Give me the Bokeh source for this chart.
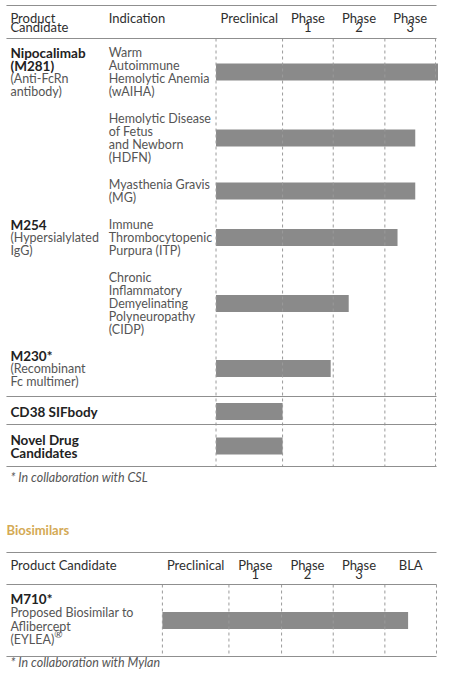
import numpy as np
from bokeh.plotting import figure
from bokeh.models import Range1d, ColumnDataSource
from bokeh.core.properties import value
from bokeh.embed import file_html
from bokeh.resources import INLINE

# ---------------- data ----------------
phases = ["Preclinical", "Phase\n1", "Phase\n2", "Phase\n3"]
product_names = ["Nipocalimab\n(M281)", "M254", "M230*", "CD38 SIFbody", "Novel Drug\nCandidates"]
product_notes = ["(Anti-FcRn\nantibody)", "(Hypersialylated\nIgG)", "(Recombinant\nFc multimer)", "", ""]
product_first_row = [0, 3, 5, 6, 7]
indications = [
    "Warm\nAutoimmune\nHemolytic Anemia\n(wAIHA)",
    "Hemolytic Disease\nof Fetus\nand Newborn\n(HDFN)",
    "Myasthenia Gravis\n(MG)",
    "Immune\nThrombocytopenic\nPurpura (ITP)",
    "Chronic\nInflammatory\nDemyelinating\nPolyneuropathy\n(CIDP)",
    "", "", "",
]
progress = [4.2, 3.6, 3.6, 3.25, 2.3, 1.95, 1.0, 1.0]
header_product = "Product\nCandidate"
header_indication = "Indication"
footnote_main = "* In collaboration with CSL"

section_title = "Biosimilars"
bio_phases = ["Preclinical", "Phase\n1", "Phase\n2", "Phase\n3", "BLA"]
bio_header = "Product Candidate"
bio_name = "M710*"
bio_note = "Proposed Biosimilar to\nAflibercept\n(EYLEA)"
bio_mark = "\u00ae"
bio_progress = [4.45]
footnote_bio = "* In collaboration with Mylan"

# ---------------- layout ----------------
W, H = 438, 669
FONT = value("Lato")
LH = 13
BAR_H = 17
edges_top = [217, 284, 335, 387, 438]
edges_bot = [163, 230, 283, 335, 387, 439]
row_top = [52, 118, 184, 224, 277, 355, 411, 439]
LEFT, RIGHT = 6, 439
X_TEXT, X_IND = 10, 109

p = figure(width=W, height=H, x_range=Range1d(0, 441), y_range=Range1d(669, 0),
           output_backend="svg", toolbar_location=None, min_border=0,
           x_axis_location=None, y_axis_location=None, outline_line_color=None)
p.grid.visible = False
p.background_fill_color = "white"


def to_x(v, edges):
    i = min(int(v), len(edges) - 2)
    return edges[i] + (v - i) * (edges[i + 1] - edges[i])


texts = {}


def add_text(style, x, y, t):
    texts.setdefault(style, {"x": [], "y": [], "t": []})
    texts[style]["x"].append(x)
    texts[style]["y"].append(y)
    texts[style]["t"].append(t)


def add_lines(style, x, y, t, lh=LH):
    for k, line in enumerate(t.split("\n")):
        if line:
            add_text(style, x, y + k * lh, line)
    return len(t.split("\n")) if t else 0


# ---- top table ----
add_lines("head", X_TEXT, 17, header_product, lh=9)
add_text("head", X_IND, 17, header_indication)
for i, ph in enumerate(phases):
    cx = (edges_top[i] + edges_top[i + 1]) / 2
    for k, line in enumerate(ph.split("\n")):
        add_text("headc", cx, 17 + k * 9, line)

bar_y = []
for r, ind in enumerate(indications):
    y0 = row_top[r]
    n = add_lines("ind", X_IND, y0, ind)
    if r in product_first_row:
        j = product_first_row.index(r)
        m = add_lines("prod", X_TEXT, y0, product_names[j])
        m += add_lines("note", X_TEXT, y0 + m * LH, product_notes[j])
        n = max(n, m)
    bar_y.append(y0 + (n - 1) * LH / 2)

bar_right = [to_x(v, edges_top) for v in progress]
p.hbar(y=bar_y, left=edges_top[0], right=bar_right, height=BAR_H,
       fill_color="#8a8a8a", line_color=None)

p.segment(x0=edges_top, y0=38, x1=edges_top, y1=466, line_color="#9a9a9a",
          line_width=1, line_dash="3 3")
hl_top = [5, 38, 396, 424, 466]
p.segment(x0=LEFT, y0=hl_top, x1=RIGHT, y1=hl_top, line_color="#8f8f8f", line_width=1)
add_text("foot", X_TEXT, 477, footnote_main)

# ---- biosimilars ----
add_text("title", LEFT, 529, section_title)
add_text("head", X_TEXT, 564, bio_header)
for i, ph in enumerate(bio_phases):
    cx = (edges_bot[i] + edges_bot[i + 1]) / 2
    for k, line in enumerate(ph.split("\n")):
        add_text("headc", cx, 564 + k * 9, line)
add_text("prod", X_TEXT, 598, bio_name)
add_lines("note", X_TEXT, 612, bio_note, lh=13.5)
add_text("mark", 54, 633, bio_mark)

p.hbar(y=[620], left=edges_bot[0], right=[to_x(v, edges_bot) for v in bio_progress],
       height=BAR_H, fill_color="#8a8a8a", line_color=None)
p.segment(x0=edges_bot, y0=584, x1=edges_bot, y1=656, line_color="#9a9a9a",
          line_width=1, line_dash="3 3")
hl_bot = [552, 584, 656]
p.segment(x0=LEFT, y0=hl_bot, x1=RIGHT, y1=hl_bot, line_color="#8f8f8f", line_width=1)
add_text("foot", X_TEXT, 662, footnote_bio)

styles = {
    "head": dict(text_color="#2e2e2e", text_font_size="13px", text_font_style="normal", text_align="left"),
    "headc": dict(text_color="#2e2e2e", text_font_size="13px", text_font_style="normal", text_align="center"),
    "ind": dict(text_color="#555555", text_font_size="12.5px", text_font_style="normal", text_align="left"),
    "prod": dict(text_color="#222222", text_font_size="13.5px", text_font_style="bold", text_align="left"),
    "note": dict(text_color="#555555", text_font_size="12.5px", text_font_style="normal", text_align="left"),
    "foot": dict(text_color="#555555", text_font_size="12.5px", text_font_style="italic", text_align="left"),
    "title": dict(text_color="#d4aa55", text_font_size="13px", text_font_style="bold", text_align="left"),
    "mark": dict(text_color="#555555", text_font_size="10px", text_font_style="normal", text_align="left"),
}
for st, d in texts.items():
    src = ColumnDataSource(dict(x=d["x"], y=d["y"], t=d["t"]))
    p.text(x="x", y="y", text="t", source=src, text_font=FONT, text_baseline="middle", **styles[st])

open("out.html", "w").write(file_html(p, INLINE))
